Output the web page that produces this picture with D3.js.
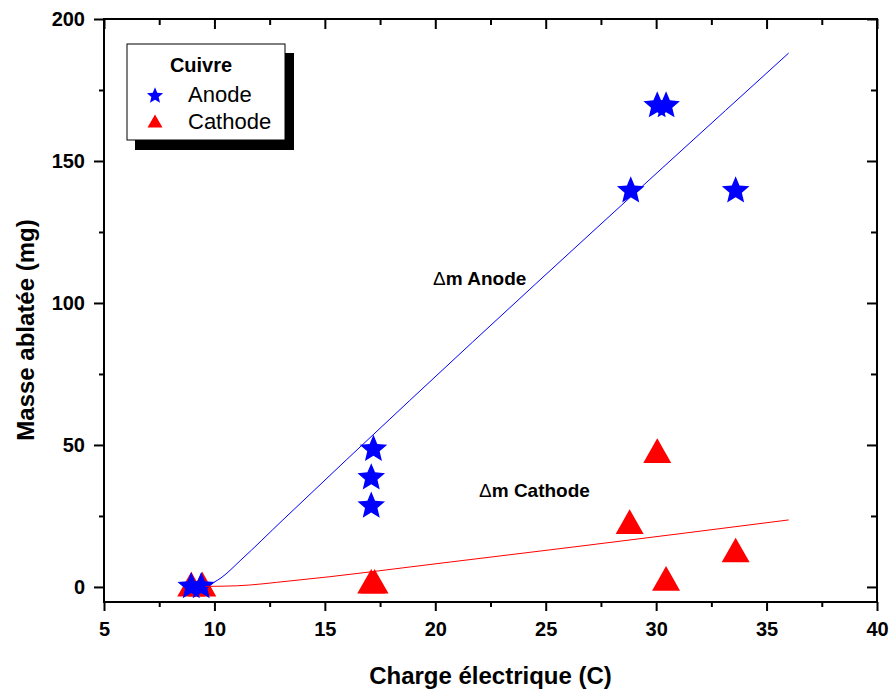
<!DOCTYPE html>
<html>
<head>
<meta charset="utf-8">
<script src="https://cdn.jsdelivr.net/npm/d3@7"></script>
<style>
body { margin: 0; background: white; }
text { font-family: Arial, "Liberation Sans", sans-serif; }
</style>
</head>
<body>
<script>
// measured points
var anodeX = [8.95, 9.4, 17.2, 17.1, 17.1, 28.85, 30.05, 30.45, 33.6];
var anodeY = [0.7, 0.7, 49, 39, 29, 140, 170, 170, 140];
var cathodeX = [8.95, 9.45, 17.1, 17.25, 28.8, 30.05, 30.45, 33.6];
var cathodeY = [1, 1, 2, 2, 23, 48, 3, 13];

// fitted curves
var anodeFitX = [9.7, 10.3, 11.2, 13.1, 36];
var anodeFitY = [0.5, 3.2, 9.5, 23.6, 188];
var cathodeFitX = [9.6, 11, 13.4, 20.7, 26.6, 36];
var cathodeFitY = [0.2, 0.4, 2.1, 8.8, 14.4, 23.6];

var xTicks = [5, 10, 15, 20, 25, 30, 35, 40];
var yTicks = [0, 50, 100, 150, 200];

var width = 892, height = 693;
var pLeft = 104, pRight = 877, pTop = 19, pBottom = 602;

var svg = d3.select("body").append("svg")
  .attr("width", width)
  .attr("height", height);

var x = d3.scaleLinear().domain([5, 40]).range([pLeft, pRight]);
var y = d3.scaleLinear().domain([-5.3, 200]).range([pBottom, pTop]);

var xMinor = d3.range(7.5, 40, 5);
var yMinor = d3.range(25, 200, 50);

// axes
svg.append("g").attr("transform", "translate(0," + pBottom + ")")
  .call(d3.axisBottom(x).tickValues(xTicks).tickSize(9).tickPadding(11).tickSizeOuter(0));
svg.append("g").attr("transform", "translate(0," + pBottom + ")")
  .call(d3.axisBottom(x).tickValues(xMinor).tickSize(5).tickFormat("").tickSizeOuter(0));
svg.append("g").attr("transform", "translate(0," + pTop + ")")
  .call(d3.axisTop(x).tickValues(xTicks).tickSize(-10).tickFormat("").tickSizeOuter(0));
svg.append("g").attr("transform", "translate(0," + pTop + ")")
  .call(d3.axisTop(x).tickValues(xMinor).tickSize(-6).tickFormat("").tickSizeOuter(0));

svg.append("g").attr("transform", "translate(" + pLeft + ",0)")
  .call(d3.axisLeft(y).tickValues(yTicks).tickSize(10).tickPadding(9).tickSizeOuter(0));
svg.append("g").attr("transform", "translate(" + pLeft + ",0)")
  .call(d3.axisLeft(y).tickValues(yMinor).tickSize(5).tickFormat("").tickSizeOuter(0));
svg.append("g").attr("transform", "translate(" + pRight + ",0)")
  .call(d3.axisRight(y).tickValues(yTicks).tickSize(-10).tickFormat("").tickSizeOuter(0));
svg.append("g").attr("transform", "translate(" + pRight + ",0)")
  .call(d3.axisRight(y).tickValues(yMinor).tickSize(-6).tickFormat("").tickSizeOuter(0));

svg.selectAll(".domain").remove();
svg.selectAll(".tick line").attr("stroke", "black").attr("stroke-width", 2);
svg.selectAll(".tick text")
  .attr("fill", "black")
  .attr("font-family", null)
  .attr("font-size", null)
  .style("font-size", "20px")
  .style("font-weight", "bold");

svg.append("rect")
  .attr("x", pLeft).attr("y", pTop)
  .attr("width", pRight - pLeft).attr("height", pBottom - pTop)
  .attr("fill", "none").attr("stroke", "black").attr("stroke-width", 2);

// axis titles
svg.append("text")
  .attr("x", (pLeft + pRight) / 2).attr("y", 684)
  .attr("text-anchor", "middle")
  .style("font-size", "24px").style("font-weight", "bold")
  .text("Charge électrique (C)");

svg.append("text")
  .attr("transform", "translate(34,330) rotate(-90)")
  .attr("text-anchor", "middle")
  .style("font-size", "24px").style("font-weight", "bold")
  .text("Masse ablatée (mg)");

// triangle centred on its box
var boxTriangle = {
  draw: function(ctx, size) {
    var w = Math.sqrt(size), h = w * 0.88;
    ctx.moveTo(0, -h / 2);
    ctx.lineTo(w / 2, h / 2);
    ctx.lineTo(-w / 2, h / 2);
    ctx.closePath();
  }
};

// fatter five point star, size = outer diameter squared
var fatStar = {
  draw: function(ctx, size) {
    var r = Math.sqrt(size) / 2, ri = r * 0.45;
    for (var k = 0; k < 10; k++) {
      var rr = k % 2 ? ri : r;
      var a = -Math.PI / 2 + k * Math.PI / 5;
      if (k == 0) ctx.moveTo(rr * Math.cos(a), rr * Math.sin(a) + r * 0.1);
      else ctx.lineTo(rr * Math.cos(a), rr * Math.sin(a) + r * 0.1);
    }
    ctx.closePath();
  }
};

svg.selectAll(".cat")
  .data(cathodeX)
  .enter()
  .append("path")
  .attr("class", "cat")
  .attr("transform", (d, i) => "translate(" + x(d) + "," + y(cathodeY[i]) + ")")
  .attr("d", d3.symbol().type(boxTriangle).size(28 * 28))
  .attr("fill", "#ff0000");

svg.selectAll(".an")
  .data(anodeX)
  .enter()
  .append("path")
  .attr("class", "an")
  .attr("transform", (d, i) => "translate(" + x(d) + "," + y(anodeY[i]) + ")")
  .attr("d", d3.symbol().type(fatStar).size(29 * 29))
  .attr("fill", "#0000ff");

// fit lines
var line = d3.line().x(d => x(d[0])).y(d => y(d[1])).curve(d3.curveMonotoneX);
svg.append("path")
  .attr("d", line(d3.zip(anodeFitX, anodeFitY)))
  .attr("fill", "none").attr("stroke", "#0000ff").attr("stroke-width", 1);
svg.append("path")
  .attr("d", line(d3.zip(cathodeFitX, cathodeFitY)))
  .attr("fill", "none").attr("stroke", "#ff0000").attr("stroke-width", 1);

// annotations
var ann = svg.append("text").attr("x", x(19.9)).attr("y", y(106.3)).style("font-size", "19px");
ann.append("tspan").text("Δ");
ann.append("tspan").style("font-weight", "bold").text("m Anode");
var ann2 = svg.append("text").attr("x", x(21.98)).attr("y", y(31.7)).style("font-size", "19px");
ann2.append("tspan").text("Δ");
ann2.append("tspan").style("font-weight", "bold").text("m Cathode");

// legend
var lg = svg.append("g");
lg.append("rect").attr("x", 135).attr("y", 53).attr("width", 159).attr("height", 97).attr("fill", "black");
lg.append("rect").attr("x", 127).attr("y", 44).attr("width", 158).attr("height", 96)
  .attr("fill", "white").attr("stroke", "black").attr("stroke-width", 1);
lg.append("text").attr("x", 201).attr("y", 72).attr("text-anchor", "middle")
  .style("font-size", "20px").style("font-weight", "bold").text("Cuivre");
lg.append("path").attr("transform", "translate(155,95)")
  .attr("d", d3.symbol().type(fatStar).size(17 * 17)).attr("fill", "#0000ff");
lg.append("path").attr("transform", "translate(155,121)")
  .attr("d", d3.symbol().type(boxTriangle).size(15 * 15)).attr("fill", "#ff0000");
lg.append("text").attr("x", 188).attr("y", 102).style("font-size", "22px").text("Anode");
lg.append("text").attr("x", 188).attr("y", 129).style("font-size", "22px").text("Cathode");
</script>
</body>
</html>
